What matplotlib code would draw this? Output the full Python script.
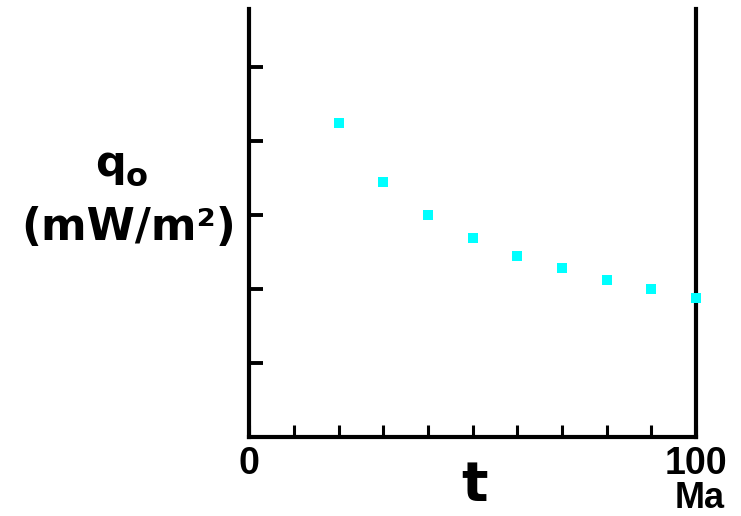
import matplotlib
matplotlib.use("Agg")
import matplotlib.pyplot as plt

# data
t_ma = [20, 30, 40, 50, 60, 70, 80, 90, 100]
q0 = [84.7, 68.8, 59.9, 53.6, 48.8, 45.5, 42.4, 39.9, 37.6]
x_ticks = [0, 10, 20, 30, 40, 50, 60, 70, 80, 90, 100]
x_ticklabels = ["0", "", "", "", "", "", "", "", "", "", "100"]
y_ticks = [20, 40, 60, 80, 100]

W, H = 741, 516
fig = plt.figure(figsize=(W / 100, H / 100), dpi=100)
left, right, bottom, top = 249.3 / W, 696 / W, 1 - 436.7 / H, 1 - 9 / H
ax = fig.add_axes([left, bottom, right - left, top - bottom])

ax.plot(t_ma, q0, linestyle="none", marker="s", markersize=7.2,
        color="#00FFFF", markeredgewidth=0, clip_on=False, zorder=5)

ax.set_xlim(0, 100)
ax.set_ylim(0, 115.6)

for s in ["left", "right", "bottom"]:
    ax.spines[s].set_linewidth(3)
    ax.spines[s].set_color("black")
ax.spines["top"].set_visible(False)

ax.set_xticks(x_ticks)
ax.set_xticklabels(x_ticklabels, fontfamily="Liberation Sans", fontweight="bold", fontsize=27)
ax.set_yticks(y_ticks)
ax.set_yticklabels([])
ax.tick_params(axis="x", direction="in", length=8.5, width=2.2, pad=7)
ax.tick_params(axis="y", direction="in", length=10, width=2.8)

# x-axis unit and label
fig.text(700 / W, 1 - 499 / H, "Ma", ha="center", va="center",
         fontfamily="Liberation Sans", fontweight="bold", fontsize=26)
fig.text(474 / W, 1 - 486 / H, "t", ha="center", va="center",
         fontfamily="DejaVu Sans", fontweight="bold", fontsize=40)

# y-axis label
fig.text(110 / W, 1 - 176 / H, "q", ha="center", va="baseline",
         fontfamily="DejaVu Sans", fontweight="bold", fontsize=31)
fig.text(137 / W, 1 - 186.5 / H, "o", ha="center", va="baseline",
         fontfamily="DejaVu Sans", fontweight="bold", fontsize=23)
fig.text(128.5 / W, 1 - 228 / H, "(mW/m²)", ha="center", va="center",
         fontfamily="DejaVu Sans", fontweight="bold", fontsize=31.5)

fig.savefig("out.png", dpi=100)
